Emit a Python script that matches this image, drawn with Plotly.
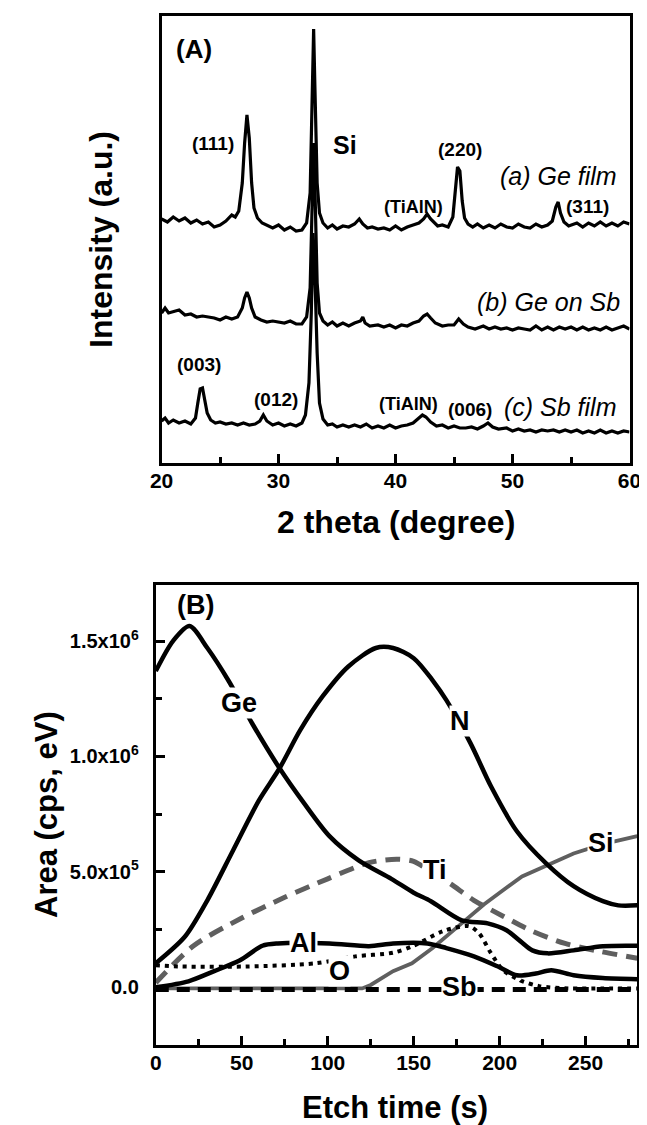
import plotly.graph_objects as go

# ---------------- Panel A : XRD patterns (intensity, a.u.) ----------------
tth_a = [20.0,20.5,21.0,21.5,22.0,22.5,23.0,23.5,24.0,24.5,25.0,25.5,26.0,26.3,26.6,26.9,27.1,27.3,27.5,27.7,27.9,28.2,28.6,29.0,29.5,30.0,30.5,31.0,31.5,32.0,32.4,32.7,32.9,33.0,33.1,33.3,33.5,33.8,34.2,34.6,35.0,35.5,36.0,36.5,36.9,37.2,37.6,38.0,38.5,39.0,39.5,40.0,40.5,41.0,41.5,42.0,42.4,42.7,43.0,43.3,43.6,44.0,44.5,44.9,45.1,45.3,45.5,45.7,45.9,46.2,46.6,47.0,47.5,48.0,48.5,49.0,49.5,50.0,50.5,51.0,51.5,52.0,52.5,53.0,53.4,53.7,53.9,54.1,54.4,54.8,55.5,56.0,56.5,57.0,57.5,58.0,58.5,59.0,59.5,60.0]
int_a = [244,241,246,242,245,240,243,239,241,236,238,242,248,246,252,280,320,348,325,280,255,245,240,238,235,238,233,236,232,233,240,270,360,434,380,280,250,240,235,238,234,237,236,239,244,239,235,236,234,235,233,237,233,236,238,240,244,249,244,240,237,238,236,246,270,296,292,262,245,239,236,239,235,238,235,239,236,235,239,236,235,239,236,238,242,256,261,250,241,237,240,236,240,237,241,237,240,237,241,239]

tth_b = [20.0,20.3,20.6,21.0,21.5,22.0,22.5,23.0,23.5,24.0,24.5,25.0,25.5,26.0,26.5,26.9,27.1,27.3,27.5,27.7,28.0,28.5,29.0,29.5,30.0,30.5,31.0,31.5,32.0,32.4,32.7,32.9,33.0,33.1,33.3,33.5,33.8,34.2,34.6,35.0,35.5,36.0,36.5,37.0,37.2,37.4,37.8,38.5,39.0,39.5,40.0,40.5,41.0,41.5,42.0,42.4,42.7,43.0,43.4,44.0,44.5,45.0,45.4,45.8,46.2,46.8,47.5,48.0,48.5,49.0,49.5,50.0,50.5,51.0,51.5,52.0,52.5,53.0,53.5,54.0,54.5,55.0,55.5,56.0,56.5,57.0,57.5,58.0,58.5,59.0,59.5,60.0]
int_b = [150,155,150,151,153,148,149,146,147,146,145,143,146,144,146,155,165,171,165,155,146,143,141,142,141,140,142,139,139,146,175,260,320,280,180,150,142,138,141,137,140,137,140,142,146,140,137,138,136,138,135,138,137,140,142,147,149,145,140,137,138,138,144,139,136,134,137,134,136,134,135,133,135,134,133,137,133,136,133,136,134,136,133,136,133,135,133,136,133,135,137,134]

tth_c = [20.0,20.3,20.6,21.0,21.5,22.0,22.5,22.9,23.1,23.3,23.5,23.7,23.9,24.2,24.6,25.0,25.5,26.0,26.5,27.0,27.5,28.0,28.4,28.7,29.0,29.5,30.0,30.5,31.0,31.5,32.0,32.3,32.6,32.8,32.95,33.1,33.3,33.5,33.8,34.2,34.6,35.0,35.5,36.0,36.5,37.0,37.5,38.0,38.5,39.0,39.5,40.0,40.5,41.0,41.5,42.0,42.3,42.6,43.0,43.5,44.0,44.5,45.0,45.5,46.0,46.5,47.0,47.5,47.9,48.3,48.8,49.5,50.0,50.5,51.0,51.5,52.0,52.5,53.0,53.5,54.0,54.5,55.0,55.5,56.0,56.5,57.0,57.5,58.0,58.5,59.0,59.5,60.0]
int_c = [42,45,40,43,40,42,39,45,60,74,75,62,50,43,40,41,39,40,38,40,38,39,42,48,42,38,40,37,39,37,40,48,80,150,230,190,110,60,44,38,39,36,38,36,38,36,39,35,37,35,38,35,37,38,40,45,48,46,41,37,38,35,37,35,35,36,34,37,40,36,34,35,32,34,32,33,31,33,32,33,31,33,31,33,30,32,30,33,30,32,30,32,31]

xticks_a = [20, 30, 40, 50, 60]

# ---------------- Panel B : depth profile (area, units of 1e6 cps eV) ----------------
t_ge = [0, 10, 19.6, 30, 42.5, 56, 72, 86, 101, 118, 137, 150, 160, 178, 193, 204, 212, 219, 228, 243, 260, 280]
v_ge = [1.37, 1.50, 1.565, 1.47, 1.326, 1.144, 0.949, 0.80, 0.655, 0.55, 0.47, 0.41, 0.373, 0.29, 0.277, 0.247, 0.20, 0.16, 0.147, 0.16, 0.178, 0.18]

t_n = [0, 17, 30, 45, 60, 72, 84, 97, 112, 128, 138, 150, 161, 169, 183, 195, 210, 227, 243, 260, 269, 280]
v_n = [0.104, 0.22, 0.377, 0.594, 0.81, 0.949, 1.114, 1.26, 1.39, 1.47, 1.47, 1.426, 1.33, 1.244, 1.058, 0.87, 0.676, 0.537, 0.438, 0.373, 0.355, 0.355]

t_ti = [0, 22, 50, 75, 100, 124, 140, 150, 160, 171, 185, 202, 219, 238, 258, 280]
v_ti = [0.02, 0.18, 0.30, 0.39, 0.47, 0.54, 0.555, 0.546, 0.50, 0.45, 0.377, 0.308, 0.243, 0.19, 0.156, 0.126]

t_si = [0, 60, 120, 125, 138, 149, 161, 176, 191, 200, 213, 228, 243, 260, 269, 280]
v_si = [-0.005, -0.005, -0.005, 0.01, 0.07, 0.104, 0.17, 0.265, 0.36, 0.41, 0.48, 0.53, 0.58, 0.62, 0.637, 0.655]

t_o = [0, 15, 52, 93, 116, 138, 150, 167, 182, 188, 195, 202, 212, 223, 240, 260, 280]
v_o = [0.095, 0.09, 0.09, 0.104, 0.134, 0.15, 0.18, 0.243, 0.265, 0.234, 0.147, 0.074, 0.03, 0.005, -0.005, -0.005, -0.005]

t_al = [0, 19, 34, 49, 62, 71, 101, 124, 138, 158, 169, 185, 199, 210, 221, 230, 243, 260, 280]
v_al = [0.0, 0.026, 0.07, 0.117, 0.18, 0.19, 0.19, 0.178, 0.19, 0.19, 0.17, 0.134, 0.09, 0.052, 0.06, 0.074, 0.052, 0.04, 0.035]

t_sb = [0, 280]
v_sb = [-0.01, -0.01]

yticks_b = [0.0, 0.5, 1.0, 1.5]
yticktext_b = ["0.0", "5.0x10<sup>5</sup>", "1.0x10<sup>6</sup>", "1.5x10<sup>6</sup>"]
xticks_b = [0, 50, 100, 150, 200, 250]

W, H = 647, 1125
FONT = "Liberation Sans, Arial, sans-serif"

fig = go.Figure()

for xs, ys in [(tth_a, int_a), (tth_b, int_b), (tth_c, int_c)]:
    fig.add_trace(go.Scatter(x=xs, y=ys, mode="lines", xaxis="x", yaxis="y",
                             line=dict(color="black", width=3.2), showlegend=False, hoverinfo="skip"))

GRAY = "#5f5f5f"
series_b = [
    (t_ti, v_ti, dict(color=GRAY, width=5, dash="15px,9px"), "spline"),
    (t_si, v_si, dict(color=GRAY, width=3.8), "linear"),
    (t_sb, v_sb, dict(color="black", width=5, dash="13px,8px"), "linear"),
    (t_o, v_o, dict(color="black", width=4, dash="4px,5px"), "spline"),
    (t_al, v_al, dict(color="black", width=4.5), "spline"),
    (t_n, v_n, dict(color="black", width=4.5), "spline"),
    (t_ge, v_ge, dict(color="black", width=4.5), "spline"),
]
for xs, ys, ln, shape in series_b:
    ln = dict(ln)
    ln["shape"] = shape
    if shape == "spline":
        ln["smoothing"] = 0.8
    fig.add_trace(go.Scatter(x=xs, y=ys, mode="lines", xaxis="x2", yaxis="y2",
                             line=ln, showlegend=False, hoverinfo="skip"))

def px_dom_x(a, b):
    return [a / W, b / W]

def px_dom_y(top, bottom):
    return [1 - bottom / H, 1 - top / H]

axis_common = dict(showline=True, linewidth=3, linecolor="black", mirror=True,
                   showgrid=False, zeroline=False)
tickfont = dict(family=FONT, size=21, color="black", weight="bold")

fig.update_layout(
    width=W, height=H, margin=dict(l=0, r=0, t=0, b=0),
    paper_bgcolor="white", plot_bgcolor="white",
    xaxis=dict(domain=px_dom_x(147, 633), range=[20, 60], anchor="y",
               tickvals=xticks_a, ticks="inside", ticklen=9, tickwidth=2.5, tickcolor="black",
               minor=dict(dtick=5, tick0=20, ticks="inside", ticklen=6, tickwidth=2.5, tickcolor="black"),
               tickfont=tickfont, ticklabelstandoff=-3, **axis_common),
    yaxis=dict(domain=px_dom_y(8, 455), range=[0, 447], anchor="x",
               showticklabels=False, ticks="", **axis_common),
    xaxis2=dict(domain=px_dom_x(141, 641), range=[0, 280], anchor="y2",
                tickvals=xticks_b, ticks="inside", ticklen=9, tickwidth=2.5, tickcolor="black",
                minor=dict(dtick=25, tick0=0, ticks="inside", ticklen=6, tickwidth=2.5, tickcolor="black"),
                tickfont=tickfont, ticklabelstandoff=-3, **axis_common),
    yaxis2=dict(domain=px_dom_y(577, 1037), range=[-0.25, 1.743], anchor="x2",
                tickvals=yticks_b, ticktext=yticktext_b, ticks="inside", ticklen=9, tickwidth=2.5,
                tickcolor="black",
                minor=dict(dtick=0.25, tick0=0, ticks="inside", ticklen=6, tickwidth=2.5, tickcolor="black"),
                tickfont=dict(family=FONT, size=20, color="black", weight="bold"),
                ticklabelstandoff=10, **axis_common),
)

ann = []

def lab(x, y, text, size, xr="x", yr="y", italic=False, bold=True, bg=None):
    t = text
    if bold:
        t = "<b>" + t + "</b>"
    if italic:
        t = "<i>" + t + "</i>"
    d = dict(x=x, y=y, xref=xr, yref=yr, text=t, showarrow=False,
             font=dict(family=FONT, size=size, color="black"),
             xanchor="center", yanchor="middle")
    if bg:
        d["bgcolor"] = bg
        d["borderpad"] = 0
    ann.append(d)

# Panel A labels
lab(22.8, 414, "(A)", 26)
lab(24.4, 319, "(111)", 19)
lab(35.7, 318, "Si", 25)
lab(41.5, 256, "(TiAlN)", 18)
lab(45.5, 313, "(220)", 19)
lab(53.9, 287, "(a) Ge film", 25, italic=True, bold=False)
lab(56.4, 256, "(311)", 19)
lab(53.1, 161, "(b) Ge on Sb", 25, italic=True, bold=False)
lab(23.2, 98, "(003)", 19)
lab(29.75, 63, "(012)", 19)
lab(41.15, 59, "(TiAlN)", 18)
lab(46.4, 53, "(006)", 19)
lab(54.1, 56, "(c) Sb film", 25, italic=True, bold=False)

# Panel B labels
lab(22.9, 1.656, "(B)", 27, "x2", "y2")
lab(48.6, 1.231, "Ge", 27, "x2", "y2", bg="white")
lab(177, 1.153, "N", 27, "x2", "y2", bg="white")
lab(162.6, 0.507, "Ti", 27, "x2", "y2", bg="white")
lab(259, 0.624, "Si", 27, "x2", "y2", bg="white")
lab(86, 0.19, "Al", 27, "x2", "y2", bg="white")
lab(106.7, 0.069, "O", 27, "x2", "y2", bg="white")
lab(176.5, 0.0, "Sb", 27, "x2", "y2", bg="white")

# Axis titles
def title(xp, yp, text, angle=0, size=32):
    ann.append(dict(x=xp / W, y=1 - yp / H, xref="paper", yref="paper",
                    text="<b>" + text + "</b>", showarrow=False, textangle=angle,
                    font=dict(family=FONT, size=size, color="black"),
                    xanchor="center", yanchor="middle"))

title(84, 231, "Intensity (a.u.)", -90)
title(390, 514, "2 theta (degree)")
title(27, 806, "Area (cps, eV)", -90, size=31)
title(389, 1099, "Etch time (s)", size=31)

fig.update_layout(annotations=ann)
fig.write_html("out.html")
